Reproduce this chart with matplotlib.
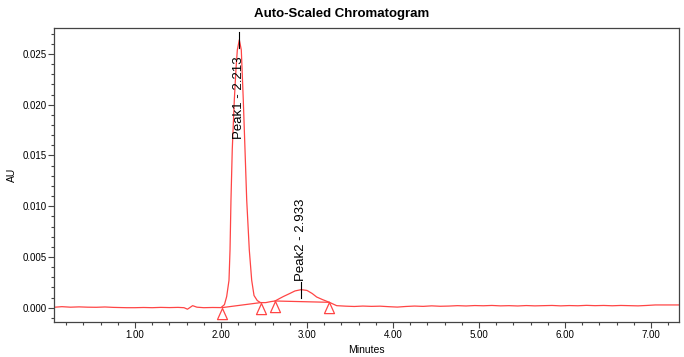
import matplotlib
matplotlib.use("Agg")
import matplotlib.pyplot as plt
from matplotlib.path import Path
from matplotlib.ticker import MultipleLocator, FormatStrFormatter

plt.rcParams['font.family'] = ['Liberation Sans', 'DejaVu Sans']

# Chromatogram trace (minutes, AU)
time = [0.07, 0.15, 0.25, 0.35, 0.45, 0.55, 0.65, 0.75, 0.90, 1.00,
        1.10, 1.20, 1.30, 1.40, 1.50, 1.57, 1.61, 1.67, 1.72, 1.80,
        1.90, 2.00, 2.04, 2.066, 2.093, 2.105, 2.116, 2.131, 2.155, 2.174,
        2.19, 2.213, 2.236, 2.259, 2.279, 2.299, 2.329, 2.357, 2.384, 2.422,
        2.46, 2.52, 2.58, 2.628, 2.68, 2.725, 2.80, 2.86, 2.933, 3.00,
        3.06, 3.113, 3.18, 3.26, 3.345, 3.45, 3.55, 3.65, 3.75, 3.85,
        3.95, 4.05, 4.15, 4.25, 4.35, 4.45, 4.55, 4.65, 4.75, 4.85,
        4.95, 5.05, 5.15, 5.25, 5.35, 5.45, 5.55, 5.65, 5.75, 5.85,
        5.95, 6.05, 6.15, 6.25, 6.35, 6.45, 6.55, 6.65, 6.75, 6.85,
        6.95, 7.05, 7.33]
signal = [0.00005, 0.00010, 0.00005, 0.00008, 0.00005, 0.00004, 0.00007, 0.00003, 0.00000, 0.00000,
          0.00002, 0.00000, 0.00003, 0.00001, 0.00003, 0.00000, -0.00015, 0.00020, 0.00005, 0.00000,
          0.00002, 0.00001, 0.00030, 0.00110, 0.00270, 0.00570, 0.01060, 0.01560, 0.02050, 0.02350,
          0.02540, 0.02640, 0.02540, 0.02050, 0.01560, 0.01060, 0.00570, 0.00270, 0.00120, 0.00070,
          0.00050, 0.00050, 0.00060, 0.00066, 0.00090, 0.00110, 0.00140, 0.00165, 0.00178, 0.00170,
          0.00140, 0.00105, 0.00080, 0.00053, 0.00020, 0.00015, 0.00012, 0.00016, 0.00013, 0.00015,
          0.00010, 0.00006, 0.00012, 0.00016, 0.00013, 0.00018, 0.00014, 0.00016, 0.00020, 0.00017,
          0.00021, 0.00019, 0.00022, 0.00018, 0.00020, 0.00017, 0.00021, 0.00018, 0.00020, 0.00022,
          0.00018, 0.00021, 0.00019, 0.00023, 0.00020, 0.00022, 0.00019, 0.00022, 0.00020, 0.00018,
          0.00022, 0.00027, 0.00027]

# Integration baselines: (start time, start AU, end time, end AU)
base_t0 = [2.015, 2.628]
base_y0 = [0.00001, 0.00066]
base_t1 = [2.46, 3.26]
base_y1 = [0.00050, 0.00053]

# Peaks
peak_names = ["Peak1", "Peak2"]
peak_times = [2.213, 2.933]
peak_heights = [0.02640, 0.00178]

xticks = [1.0, 2.0, 3.0, 4.0, 5.0, 6.0, 7.0]
yticks = [0.000, 0.005, 0.010, 0.015, 0.020, 0.025]

W, H = 684, 357
fig = plt.figure(figsize=(W / 100, H / 100), dpi=100)
ax = fig.add_axes([54 / W, 1 - 322 / H, (679 - 54) / W, (322 - 28) / H])

red = '#ff4545'
ax.plot(time, signal, color=red, lw=0.9)

tri = Path([(0, 0), (-0.45, -1), (0.45, -1), (0, 0)],
           [Path.MOVETO, Path.LINETO, Path.LINETO, Path.CLOSEPOLY])
for a, b, c, d in zip(base_t0, base_y0, base_t1, base_y1):
    ax.plot([a, c], [b, d], color=red, lw=0.9)
    ax.plot([a, c], [b, d], ls='none', marker=tri, markersize=16,
            markerfacecolor='none', markeredgecolor=red, markeredgewidth=0.9)

px = 0.001 / 10.14  # AU per pixel
for i, (name, t, h) in enumerate(zip(peak_names, peak_times, peak_heights)):
    ax.plot([t, t], [h - 8 * px, h + 8 * px], color='black', lw=0.8)
    label = f"{name} - {t:.3f}"
    if i == 0:
        ax.text(t, 0.02473, label, rotation=90, ha='center', va='top',
                fontsize=9.5, color='black')
    else:
        ax.text(t, h + 9 * px, label, rotation=90, ha='center', va='bottom',
                fontsize=9.5, color='black')

ax.set_xlim(0.058, 7.326)
ax.set_ylim(-0.00141, 0.02756)
ax.set_xticks(xticks)
ax.set_yticks(yticks)
ax.xaxis.set_major_formatter(FormatStrFormatter('%.2f'))
ax.yaxis.set_major_formatter(FormatStrFormatter('%.3f'))
ax.xaxis.set_minor_locator(MultipleLocator(0.2))
ax.yaxis.set_minor_locator(MultipleLocator(0.001))
ax.tick_params(axis='both', which='major', direction='out', labelsize=7,
               length=4, width=0.8, color='#444444', pad=2)
ax.tick_params(axis='both', which='minor', direction='out', length=2.5,
               width=0.8, color='#444444')
ax.tick_params(axis='y', which='major', length=4.5, pad=1)
for s in ax.spines.values():
    s.set_color('#444444')
    s.set_linewidth(0.9)

ax.set_xlabel('Minutes', fontsize=7.5)
ax.xaxis.set_label_coords(0.5, -(350 - 322) / (322 - 28), transform=ax.transAxes)
ax.xaxis.label.set_va('center')
ax.set_ylabel('AU', fontsize=7.5)
ax.yaxis.set_label_coords(-(54 - 12) / (679 - 54), 0.5)
ax.yaxis.label.set_va('center')

fig.text(0.5, 1 - 14 / H, 'Auto-Scaled Chromatogram', ha='center', va='center',
         fontsize=9.5, fontweight='bold')

fig.savefig('out.png', dpi=100)
